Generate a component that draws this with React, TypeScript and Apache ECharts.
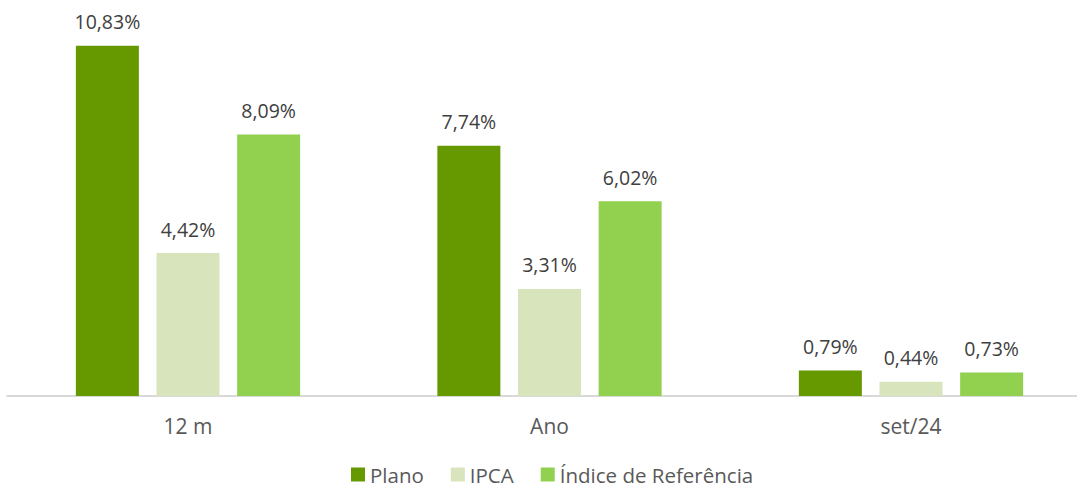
import React, { useEffect, useRef } from "react";
import * as echarts from "echarts";

const categories = ["12 m", "Ano", "set/24"];
const plano = [10.83, 7.74, 0.79];
const ipca = [4.42, 3.31, 0.44];
const indice = [8.09, 6.02, 0.73];
const seriesNames = ["Plano", "IPCA", "Índice de Referência"];
const colors = ["#669900", "#D8E4BC", "#92D050"];

const fmt = (v: number) => v.toFixed(2).replace(".", ",") + "%";

export default function App() {
  const ref = useRef<HTMLDivElement>(null);
  useEffect(() => {
    if (!ref.current) return;
    const chart = echarts.init(ref.current, undefined, { renderer: "svg" });
    const font = "'Open Sans', sans-serif";
    const mk = (name: string, data: number[], color: string) => ({
      name,
      type: "bar",
      data,
      barWidth: 63,
      barGap: "28%",
      itemStyle: { color },
      label: {
        show: true,
        position: "top",
        distance: 14,
        formatter: (p: any) => fmt(p.value),
        color: "#404040",
        fontSize: 19.5,
        fontFamily: font,
      },
    });
    chart.setOption({
      animation: false,
      textStyle: { fontFamily: font },
      grid: {
        left: 7.25,
        top: 8,
        right: -14.75,
        bottom: 92,
        containLabel: false,
        outerBoundsMode: "none",
      },
      legend: {
        data: seriesNames,
        top: 464,
        left: 351,
        padding: 0,
        itemWidth: 14,
        itemHeight: 14,
        itemGap: 27,
        icon: "rect",
        textStyle: { color: "#595959", fontSize: 20.5, fontFamily: font, lineHeight: 20 },
      },
      xAxis: {
        type: "category",
        data: categories,
        axisLine: { lineStyle: { color: "#D9D9D9", width: 2 } },
        axisTick: { show: false },
        axisLabel: { color: "#595959", fontSize: 21, margin: 19, fontFamily: font },
      },
      yAxis: {
        type: "value",
        min: 0,
        max: 12,
        show: false,
        splitLine: { show: false },
      },
      series: [
        mk(seriesNames[0], plano, colors[0]),
        mk(seriesNames[1], ipca, colors[1]),
        mk(seriesNames[2], indice, colors[2]),
      ],
    });
    return () => chart.dispose();
  }, []);
  return (
    <div
      ref={ref}
      style={{ position: "fixed", left: 0, top: 0, width: 1077, height: 488, background: "#fff" }}
    />
  );
}
